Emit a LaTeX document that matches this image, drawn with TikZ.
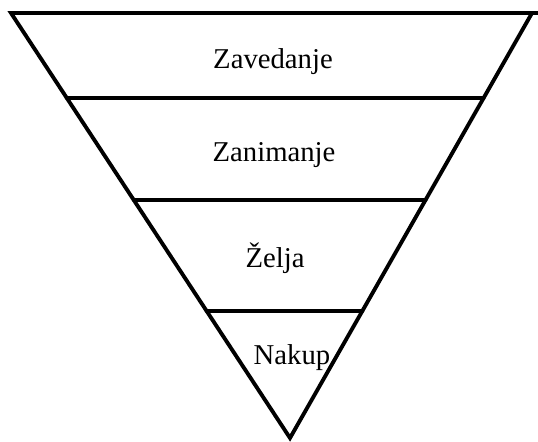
\documentclass[tikz,border=0pt]{standalone}
\usepackage{fontspec}
\setmainfont{Liberation Serif}
\usetikzlibrary{calc,positioning}

\begin{document}
\begin{tikzpicture}[x=0.03cm, y=-0.03cm,
    band/.style={line width=3.3pt, line cap=round, line join=miter},
    stage/.style={font=\fontsize{24.5}{28}\selectfont, inner sep=0pt}
]
\useasboundingbox (0,0) rectangle (538,441);

% ---- Vertices ----
\coordinate (tl) at (11,13);
\coordinate (tr) at (532,13);
\coordinate (te) at (538,13);
\coordinate (apex) at (290,438);

% Meje na robovih
\coordinate (l1) at ($(tl)!0.2!(apex)$);
\coordinate (r1) at ($(tr)!0.2!(apex)$);
\coordinate (l2) at ($(tl)!0.44!(apex)$);
\coordinate (r2) at ($(tr)!0.44!(apex)$);
\coordinate (l3) at ($(tl)!0.701!(apex)$);
\coordinate (r3) at ($(tr)!0.701!(apex)$);

% Trikotnik
\draw[band] (tl) -- (tr) -- (apex) -- cycle;
\draw[band] (tr) -- (te);
\draw[band] (l1) -- (r1);
\draw[band] (l2) -- (r2);
\draw[band] (l3) -- (r3);

% Oznake
\node[stage] (zav) at (273,62) {Zavedanje};
\node[stage] (zan) at (274,155) {Zanimanje};
\node[stage] (zel) at (275,258) {Želja};
\node[stage] (nak) at (292,358) {Nakup};

\end{tikzpicture}
\end{document}
